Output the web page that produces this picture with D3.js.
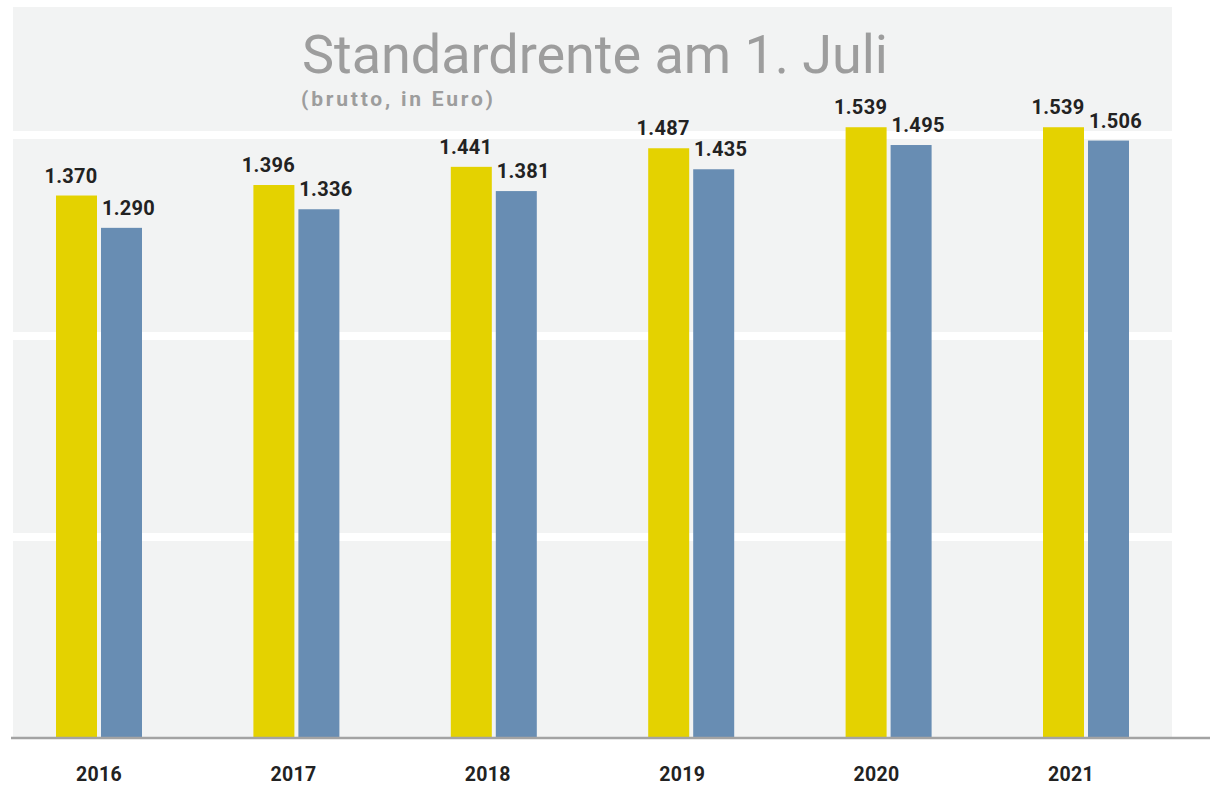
<!DOCTYPE html>
<html>
<head>
<meta charset="utf-8">
<script src="https://cdn.jsdelivr.net/npm/d3@7"></script>
<style>
  html, body { margin: 0; padding: 0; background: #ffffff; }
  svg { display: block; }
  text { font-family: Roboto, "DejaVu Sans", sans-serif; }
</style>
</head>
<body>
<svg id="chart" width="1210" height="785"></svg>
<script>
// ---- data ----
const years = ["2016", "2017", "2018", "2019", "2020", "2021"];
const west  = [1370, 1396, 1441, 1487, 1539, 1539];   // gelb
const ost   = [1290, 1336, 1381, 1435, 1495, 1506];   // blau
const gridTicks = [500, 1000, 1500];
const title = "Standardrente am 1. Juli";
const subtitle = "(brutto, in Euro)";

// ---- layout ----
const W = 1210, H = 785;
const panel = { left: 13, right: 1172, top: 7, bottom: 738 };
const baseline = 738;
const barW = 41;
const colors = { west: "#e4d200", ost: "#688db3", panel: "#f2f3f3", axis: "#a3a3a3", text: "#222222", title: "#9d9d9d" };

const de = d3.formatLocale({ decimal: ",", thousands: ".", grouping: [3], currency: ["", " €"] });
const fmt = de.format(",");

const svg = d3.select("#chart");

// scales
const y = d3.scaleLinear().domain([0, 1600]).range([749, 749 - 1600 * 0.404]);
const grid = d3.scaleLinear().domain([0, 1500]).range([738, 135]);
const xGroup = d3.scalePoint().domain(years).range([99, 1086]);
const xLabel = d3.scalePoint().domain(years).range([99, 1071]);

// panel background
svg.append("rect")
  .attr("x", panel.left).attr("y", panel.top)
  .attr("width", panel.right - panel.left).attr("height", panel.bottom - panel.top)
  .attr("fill", colors.panel);

// white grid stripes
svg.append("g").selectAll("rect").data(gridTicks).join("rect")
  .attr("x", panel.left).attr("width", panel.right - panel.left)
  .attr("y", d => grid(d) - 4).attr("height", 8)
  .attr("fill", "#ffffff");

// title
function fitText(sel, target) {
  const node = sel.node();
  const n = sel.text().length;
  const natural = node.getComputedTextLength();
  sel.attr("letter-spacing", ((target - natural) / (n - 1)).toFixed(2));
}
const t1 = svg.append("text")
  .attr("x", 302).attr("y", 72.5)
  .attr("font-size", 54).attr("font-weight", 400)
  .attr("fill", colors.title).text(title);
fitText(t1, 586);
const t2 = svg.append("text")
  .attr("x", 301).attr("y", 106)
  .attr("font-size", 21).attr("font-weight", 700)
  .attr("fill", colors.title).text(subtitle);
fitText(t2, 192);

// bars
const rows = years.map((yr, i) => ({ year: yr, west: west[i], ost: ost[i] }));
const g = svg.append("g");
g.selectAll("rect.west").data(rows).join("rect")
  .attr("class", "west")
  .attr("x", d => xGroup(d.year) - 43).attr("width", barW)
  .attr("y", d => y(d.west)).attr("height", d => baseline - y(d.west))
  .attr("fill", colors.west);
g.selectAll("rect.ost").data(rows).join("rect")
  .attr("class", "ost")
  .attr("x", d => xGroup(d.year) + 2).attr("width", barW)
  .attr("y", d => y(d.ost)).attr("height", d => baseline - y(d.ost))
  .attr("fill", colors.ost);

// value labels
g.selectAll("text.vw").data(rows).join("text")
  .attr("class", "vw")
  .attr("x", d => xGroup(d.year) - 43 + barW / 2 - 5.5)
  .attr("y", d => y(d.west) - 13)
  .attr("text-anchor", "middle").attr("font-size", 20).attr("font-weight", 700)
  .attr("letter-spacing", 0.3)
  .attr("fill", colors.text).text(d => fmt(d.west));
g.selectAll("text.vo").data(rows).join("text")
  .attr("class", "vo")
  .attr("x", d => xGroup(d.year) + 2 + barW / 2 + 7)
  .attr("y", d => y(d.ost) - 13)
  .attr("text-anchor", "middle").attr("font-size", 20).attr("font-weight", 700)
  .attr("letter-spacing", 0.3)
  .attr("fill", colors.text).text(d => fmt(d.ost));

// axis line
svg.append("line")
  .attr("x1", 11).attr("x2", W)
  .attr("y1", baseline).attr("y2", baseline)
  .attr("stroke", colors.axis).attr("stroke-width", 2.5);

// year labels
svg.append("g").selectAll("text").data(years).join("text")
  .attr("x", d => xLabel(d)).attr("y", 781)
  .attr("text-anchor", "middle").attr("font-size", 19.5).attr("font-weight", 700)
  .attr("letter-spacing", 0.3)
  .attr("fill", colors.text).text(d => d);
</script>
</body>
</html>
